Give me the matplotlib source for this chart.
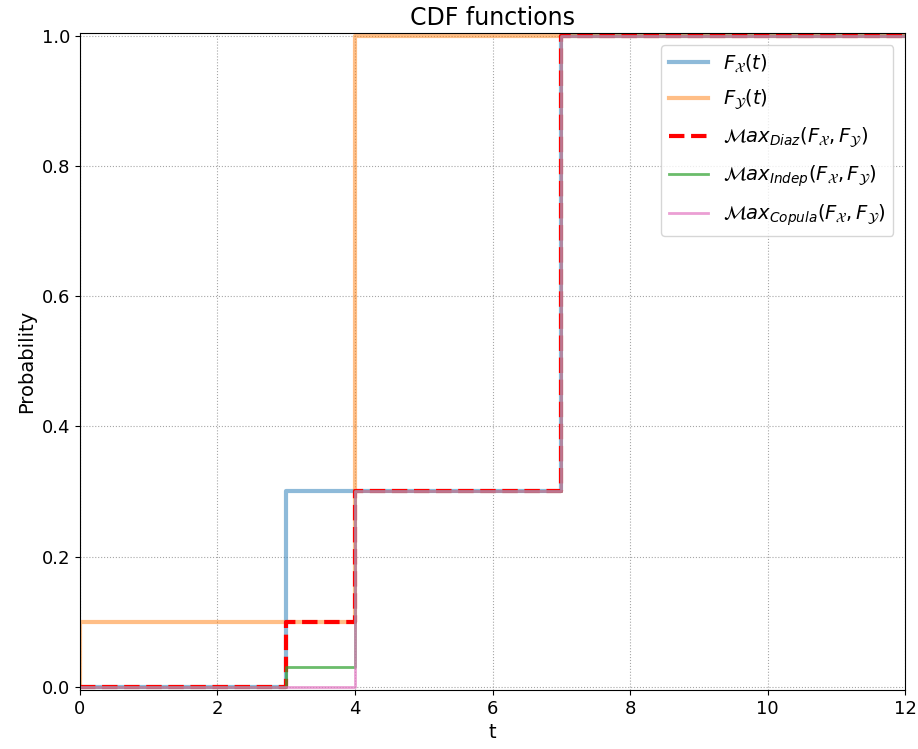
import matplotlib.pyplot as plt

t = [0, 0, 3, 4, 7, 12]
f_x = [0, 0, 0.3, 0.3, 1, 1]
f_y = [0, 0.1, 0.1, 1, 1, 1]
max_diaz = [0, 0, 0.1, 0.3, 1, 1]
max_indep = [0, 0, 0.03, 0.3, 1, 1]
max_copula = [0, 0, 0, 0.3, 1, 1]

fig = plt.figure(figsize=(9.18, 7.49), dpi=100)
ax = fig.add_axes([0.087, 0.079, 0.899, 0.877])

ax.step(t, f_x, where='post', color='tab:blue', alpha=0.5, lw=3, label=r'$F_{\mathcal{X}}(t)$')
ax.step(t, f_y, where='post', color='tab:orange', alpha=0.5, lw=3, label=r'$F_{\mathcal{Y}}(t)$')
ax.step(t, max_diaz, where='post', color='red', ls='--', lw=3,
        label=r'$\mathcal{M}ax_{Diaz}(F_{\mathcal{X}},F_{\mathcal{Y}})$')
ax.step(t, max_indep, where='post', color='tab:green', alpha=0.7, lw=2,
        label=r'$\mathcal{M}ax_{Indep}(F_{\mathcal{X}},F_{\mathcal{Y}})$')
ax.step(t, max_copula, where='post', color='tab:pink', alpha=0.7, lw=2,
        label=r'$\mathcal{M}ax_{Copula}(F_{\mathcal{X}},F_{\mathcal{Y}})$')

ax.set_xlim(0, 12)
ax.set_ylim(-0.005, 1.005)
ax.grid(True, ls=':', color='gray', alpha=0.7)
ax.tick_params(labelsize=13)
ax.set_xlabel('t', fontsize=14)
ax.set_ylabel('Probability', fontsize=14)
ax.set_title('CDF functions', fontsize=17)
ax.legend(loc='upper right', fontsize=14, labelspacing=0.7, borderaxespad=0.6)

plt.savefig('out.png', dpi=100)
